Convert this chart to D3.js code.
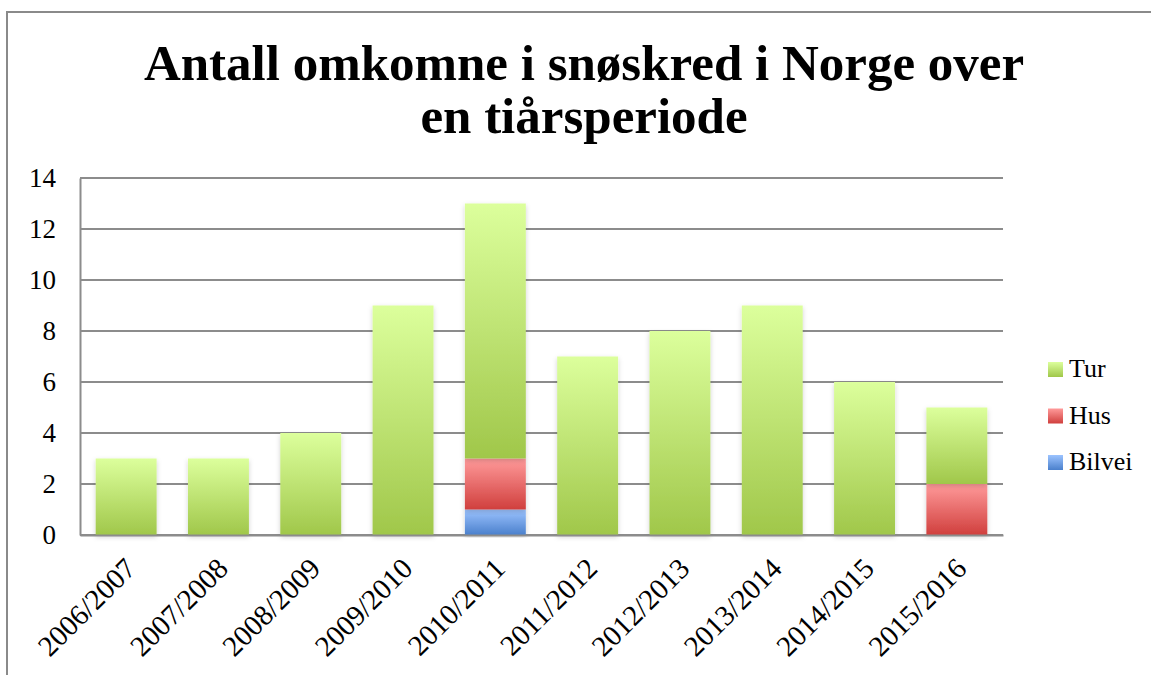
<!DOCTYPE html>
<html>
<head>
<meta charset="utf-8">
<script src="https://cdn.jsdelivr.net/npm/d3@7"></script>
<style>
  html, body { margin: 0; padding: 0; background: #fff; }
  svg { display: block; }
  svg text { font-family: "Liberation Serif", "DejaVu Serif", serif !important; fill: #000; }
</style>
</head>
<body>
<svg id="chart" width="1151" height="675"></svg>
<script>
// ---- Data ----
const categories = ["2006/2007","2007/2008","2008/2009","2009/2010","2010/2011","2011/2012","2012/2013","2013/2014","2014/2015","2015/2016"];
const seriesNames = ["Bilvei","Hus","Tur"];
const bilvei = [0,0,0,0,1,0,0,0,0,0];
const hus    = [0,0,0,0,2,0,0,0,0,2];
const tur    = [3,3,4,9,10,7,8,9,6,3];
const yTicks = [0,2,4,6,8,10,12,14];
const titleLines = ["Antall omkomne i snøskred i Norge over", "en tiårsperiode"];
const legendOrder = ["Tur","Hus","Bilvei"];

// ---- Layout ----
const svg = d3.select("#chart");
const W = 1151, H = 675;
const plot = {left: 80, right: 1003, top: 178, bottom: 535};

const colors = {
  Tur:    {top: "#dcff9c", bottom: "#a0c74a"},
  Hus:    {top: "#ff9a9a", bottom: "#d03f3d"},
  Bilvei: {top: "#9cc3ff", bottom: "#4a80cc"}
};

const defs = svg.append("defs");
seriesNames.forEach(s => {
  const g = defs.append("linearGradient").attr("id", "grad-" + s)
    .attr("x1", 0).attr("y1", 0).attr("x2", 0).attr("y2", 1);
  g.append("stop").attr("offset", "0%").attr("stop-color", colors[s].top);
  g.append("stop").attr("offset", "100%").attr("stop-color", colors[s].bottom);
});
const f = defs.append("filter").attr("id", "shadow")
  .attr("x", "-20%").attr("y", "-10%").attr("width", "140%").attr("height", "120%");
f.append("feDropShadow").attr("dx", 0).attr("dy", 2).attr("stdDeviation", 2.5)
  .attr("flood-color", "#000").attr("flood-opacity", 0.18);

// Outer frame
svg.append("line").attr("x1", 6).attr("x2", W).attr("y1", 12).attr("y2", 12)
  .attr("stroke", "#8a8a8a").attr("stroke-width", 2);
svg.append("line").attr("x1", 7).attr("x2", 7).attr("y1", 12).attr("y2", H)
  .attr("stroke", "#8a8a8a").attr("stroke-width", 2);

// Title
const title = svg.append("text").attr("text-anchor", "middle")
  .attr("font-weight", "bold").attr("font-size", 51);
title.append("tspan").attr("x", 584).attr("y", 80).text(titleLines[0]);
title.append("tspan").attr("x", 584).attr("y", 133).text(titleLines[1]);

// Scales
const x = d3.scaleBand().domain(categories).range([plot.left, plot.right]).paddingInner(0.34).paddingOuter(0.17);
const y = d3.scaleLinear().domain([0, 14]).range([plot.bottom, plot.top]);

// Gridlines
svg.append("g").selectAll("line").data(yTicks).join("line")
  .attr("x1", plot.left).attr("x2", plot.right)
  .attr("y1", d => y(d)).attr("y2", d => y(d))
  .attr("stroke", "#8c8c8c").attr("stroke-width", 2);

// Y axis
const yAxis = svg.append("g").attr("transform", `translate(${plot.left},0)`)
  .call(d3.axisLeft(y).tickValues(yTicks).tickSize(0).tickPadding(24));
yAxis.attr("font-family", null).attr("font-size", null);
yAxis.select(".domain").attr("stroke", "#8c8c8c").attr("stroke-width", 2);
yAxis.selectAll("text").style("font-size", "27px").attr("fill", "#000");

// Stacked data
const rows = categories.map((c, i) => ({cat: c, Bilvei: bilvei[i], Hus: hus[i], Tur: tur[i]}));
const stack = d3.stack().keys(seriesNames)(rows);

const barsG = svg.append("g");
stack.forEach(layer => {
  barsG.append("g").selectAll("rect")
    .data(layer.filter(d => d[1] - d[0] > 0)).join("rect")
    .attr("x", d => x(d.data.cat))
    .attr("width", x.bandwidth())
    .attr("y", d => y(d[1]))
    .attr("height", d => y(d[0]) - y(d[1]))
    .attr("fill", `url(#grad-${layer.key})`)
    .attr("filter", "url(#shadow)");
});

// X axis
const xAxis = svg.append("g").attr("transform", `translate(0,${plot.bottom})`)
  .call(d3.axisBottom(x).tickSize(0));
xAxis.attr("font-family", null).attr("font-size", null);
xAxis.select(".domain").attr("stroke", "#8c8c8c").attr("stroke-width", 2);
xAxis.selectAll("text")
  .style("font-size", "29px").attr("fill", "#000")
  .attr("text-anchor", "end")
  .attr("dy", "0.35em")
  .attr("transform", "translate(2,26) rotate(-45)");

// Legend
const legend = svg.append("g");
legendOrder.forEach((s, i) => {
  const ly = 362 + i * 46.5;
  legend.append("rect").attr("x", 1048).attr("y", ly).attr("width", 15).attr("height", 15)
    .attr("fill", `url(#grad-${s})`);
  legend.append("text").attr("x", 1069).attr("y", ly + 15).style("font-size", "26px").text(s);
});
</script>
</body>
</html>
